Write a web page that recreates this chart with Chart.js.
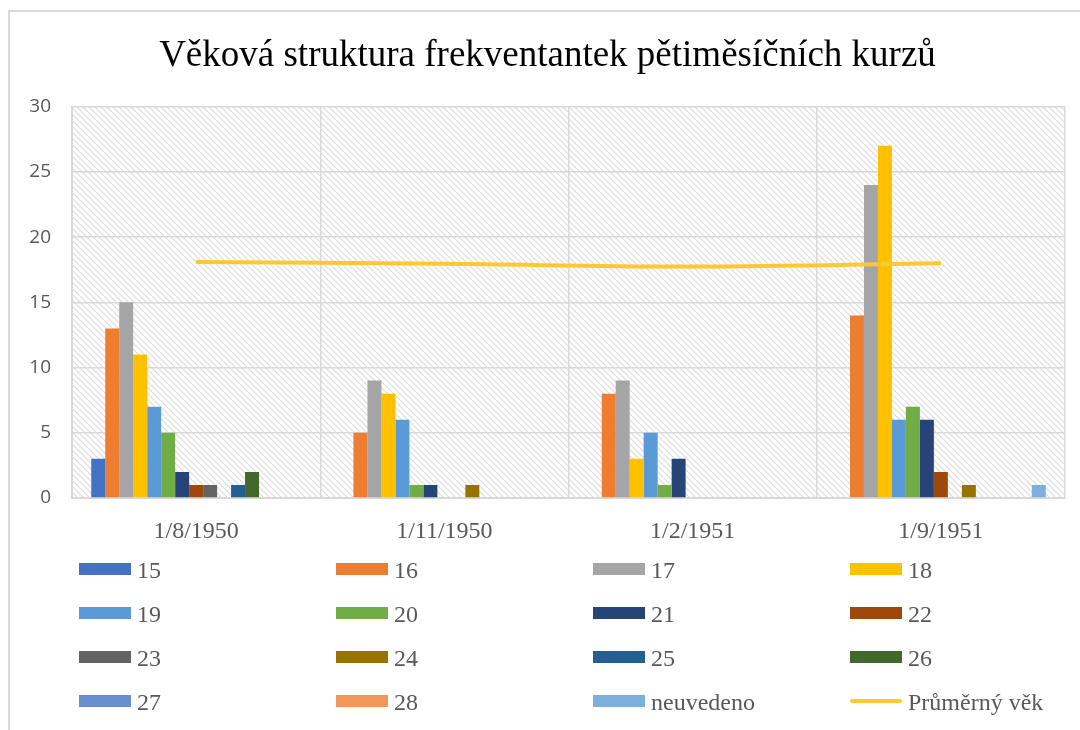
<!DOCTYPE html>
<html>
<head>
<meta charset="utf-8">
<script src="https://cdn.jsdelivr.net/npm/chart.js@4/dist/chart.umd.min.js"></script>
<style>
  body { margin: 0; background: #fff; }
  #wrap { position: relative; width: 1080px; height: 730px; overflow: hidden; }
  #frame { position: absolute; left: 8px; top: 10px; width: 1200px; height: 900px;
           border-top: 2px solid #d9d9d9; border-left: 2px solid #d9d9d9; }
  canvas { position: absolute; left: 0; top: 0; }
  #legend { position: absolute; left: 79px; top: 556px; width: 1028px;
            font-family: "Liberation Serif", serif; font-size: 24px; color: #595959; }
  .item { position: absolute; height: 26px; line-height: 26px; white-space: nowrap; }
  .swatch { position: absolute; left: 0; top: 7px; width: 52px; height: 12px; }
  .swatch.line { top: 11px; height: 4px; border-radius: 2px; }
  .label { position: absolute; left: 58px; top: 1px; }
</style>
</head>
<body>
<div id="wrap">
  <div id="frame"></div>
  <canvas id="c" width="1080" height="730"></canvas>
  <div id="legend"></div>
</div>
<script>
// categories
const dates = ['1/8/1950', '1/11/1950', '1/2/1951', '1/9/1951'];

// counts per age, one array per age group
const age15 = [3, 0, 0, 0];
const age16 = [13, 5, 8, 14];
const age17 = [15, 9, 9, 24];
const age18 = [11, 8, 3, 27];
const age19 = [7, 6, 5, 6];
const age20 = [5, 1, 1, 7];
const age21 = [2, 1, 3, 6];
const age22 = [1, 0, 0, 2];
const age23 = [1, 0, 0, 0];
const age24 = [0, 1, 0, 1];
const age25 = [1, 0, 0, 0];
const age26 = [2, 0, 0, 0];
const age27 = [0, 0, 0, 0];
const age28 = [0, 0, 0, 0];
const unknown = [0, 0, 0, 1];

// average age line
const avgAge = [18.1, 17.95, 17.75, 18.0];

const yTicks = [0, 5, 10, 15, 20, 25, 30];

const barSeries = [
  { label: '15', data: age15, color: '#4472C4' },
  { label: '16', data: age16, color: '#ED7D31' },
  { label: '17', data: age17, color: '#A5A5A5' },
  { label: '18', data: age18, color: '#FFC000' },
  { label: '19', data: age19, color: '#5B9BD5' },
  { label: '20', data: age20, color: '#70AD47' },
  { label: '21', data: age21, color: '#264478' },
  { label: '22', data: age22, color: '#9E480E' },
  { label: '23', data: age23, color: '#636363' },
  { label: '24', data: age24, color: '#997300' },
  { label: '25', data: age25, color: '#255E91' },
  { label: '26', data: age26, color: '#43682B' },
  { label: '27', data: age27, color: '#698ED0' },
  { label: '28', data: age28, color: '#F1975A' },
  { label: 'neuvedeno', data: unknown, color: '#7CAFDD' },
];
const lineColor = '#FFC832';

// diagonal hatch for the plot background
const makeHatch = () => {
  const t = document.createElement('canvas');
  t.width = 6; t.height = 6;
  const g = t.getContext('2d');
  g.fillStyle = '#fff';
  g.fillRect(0, 0, 6, 6);
  g.strokeStyle = '#dcdcdc';
  g.lineWidth = 1.2;
  g.beginPath();
  g.moveTo(-1, -1); g.lineTo(7, 7);
  g.moveTo(-1, 5); g.lineTo(1, 7);
  g.moveTo(5, -1); g.lineTo(7, 1);
  g.stroke();
  return g.createPattern(t, 'repeat');
};

const hatchPlugin = {
  id: 'hatch',
  beforeDraw(chart) {
    const { ctx, chartArea: a } = chart;
    ctx.save();
    ctx.fillStyle = makeHatch();
    ctx.fillRect(a.left, a.top, a.right - a.left, a.bottom - a.top);
    ctx.restore();
  }
};

const datasets = barSeries.map(s => ({
  type: 'bar',
  label: s.label,
  data: s.data,
  backgroundColor: s.color,
  borderWidth: 0,
  order: 1,
}));
datasets.push({
  type: 'line',
  label: 'Průměrný věk',
  data: avgAge,
  borderColor: lineColor,
  borderWidth: 4,
  tension: 0.4,
  pointRadius: 0,
  fill: false,
  order: 0,
});

const chart = new Chart(document.getElementById('c'), {
  data: { labels: dates, datasets },
  plugins: [hatchPlugin],
  options: {
    responsive: false,
    animation: false,
    layout: { padding: { top: 36, left: 30, right: 15, bottom: 190 } },
    datasets: { bar: { categoryPercentage: 0.845, barPercentage: 1 } },
    plugins: {
      legend: { display: false },
      tooltip: { enabled: false },
      title: {
        display: true,
        text: 'Věková struktura frekventantek pětiměsíčních kurzů',
        color: '#000',
        font: { family: 'Liberation Serif', size: 37, weight: 'normal', lineHeight: 1.1 },
        padding: { top: 0, bottom: 30 },
      },
    },
    scales: {
      x: {
        grid: { offset: true, color: '#d9d9d9', lineWidth: 1.5, drawTicks: false },
        border: { color: '#d9d9d9', width: 2 },
        ticks: { color: '#595959', padding: 19, font: { family: 'Liberation Serif', size: 24 } },
        afterFit(scale) { scale.height = 42; },
      },
      y: {
        min: 0,
        max: 30,
        afterBuildTicks(scale) { scale.ticks = yTicks.map(v => ({ value: v })); },
        grid: { color: '#d9d9d9', lineWidth: 1.5, drawTicks: false },
        border: { color: '#d9d9d9', width: 2 },
        ticks: { color: '#595959', padding: 21, font: { family: 'Open Sans', size: 19 } },
        afterFit(scale) { scale.width = 42; },
      },
    },
  },
});

// legend in four columns, row by row
const legend = document.getElementById('legend');
chart.data.datasets.forEach((ds, i) => {
  const item = document.createElement('div');
  item.className = 'item';
  item.style.left = (i % 4) * 257 + 'px';
  item.style.top = Math.floor(i / 4) * 44 + 'px';
  const sw = document.createElement('div');
  sw.className = ds.type === 'line' ? 'swatch line' : 'swatch';
  sw.style.background = ds.type === 'line' ? ds.borderColor : ds.backgroundColor;
  const lb = document.createElement('span');
  lb.className = 'label';
  lb.textContent = ds.label;
  item.appendChild(sw);
  item.appendChild(lb);
  legend.appendChild(item);
});
</script>
</body>
</html>
